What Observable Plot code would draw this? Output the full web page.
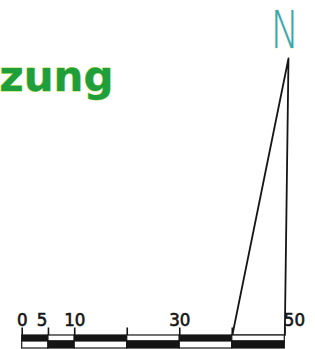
<!DOCTYPE html>
<html><head><meta charset="utf-8">
<script src="https://cdn.jsdelivr.net/npm/d3@7"></script>
<script src="https://cdn.jsdelivr.net/npm/@observablehq/plot@0.6"></script>
<style>html,body{margin:0;padding:0;background:#fff;overflow:hidden}</style>
</head><body><div id="chart"></div>
<script>
// Scale bar data (distance units)
const tickValues = [0, 5, 10, 20, 30, 40, 50];
const tickLabels = ["0", "5", "10", "", "30", "", "50"];
const segmentStart = [0, 5, 10, 20, 30, 40];
const segmentEnd = [5, 10, 20, 30, 40, 50];
const topRowDark = [true, false, true, false, true, false];
// North arrow (tip and base, in distance units along the bar)
const arrowTipX = 50.7;
const arrowBaseLeftX = 40;
const arrowBaseRightX = 50;
const northLabel = "N";
const titleText = "zung";

const segments = segmentStart.map((s, i) => ({x1: s, x2: segmentEnd[i], dark: topRowDark[i]}));
const ticks = tickValues.map((v, i) => ({x: v, label: tickLabels[i]}));

// vertical layout rows (in the chart's vertical units)
const Y = {tickTop: 327.5, barTop: 335, barMid: 341, barBottom: 348, labelBase: 325, arrowTip: 58, northBase: 47};

const arrow = [
  {x: arrowTipX, y: Y.arrowTip},
  {x: arrowBaseLeftX, y: Y.barTop},
  {x: arrowBaseRightX, y: Y.barTop},
  {x: arrowTipX, y: Y.arrowTip}
];

const ink = "#151515";
const labelFont = "'DejaVu Sans Condensed', 'Liberation Sans Narrow', sans-serif";
const labelStyle = {y: Y.labelBase, text: "label", lineAnchor: "bottom", fontSize: 18.5, fontFamily: labelFont, fill: ink, stroke: ink, strokeWidth: 0.6};

const chart = Plot.plot({
  width: 315,
  height: 349,
  margin: 0,
  x: {domain: [0, 50], range: [21.7, 284.3], axis: null},
  y: {domain: [0, 349], range: [0, 349], axis: null},
  style: {background: "#fff"},
  marks: [
    // north arrow outline
    Plot.line(arrow, {x: "x", y: "y", stroke: ink, strokeWidth: 1.8, strokeLinejoin: "miter", fill: "none"}),
    // bar rows
    Plot.rect(segments, {x1: "x1", x2: "x2", y1: Y.barTop, y2: Y.barMid, fill: d => d.dark ? ink : "#fff", stroke: ink, strokeWidth: 1.2}),
    Plot.rect(segments, {x1: "x1", x2: "x2", y1: Y.barMid, y2: Y.barBottom, fill: d => d.dark ? "#fff" : ink, stroke: ink, strokeWidth: 1.2}),
    // ticks
    Plot.ruleX(ticks, {x: "x", y1: Y.tickTop, y2: Y.barTop, stroke: ink, strokeWidth: 1.6}),
    // tick labels
    Plot.text(ticks.filter(d => d.label && d.x !== 5 && d.x !== 50), {x: "x", ...labelStyle}),
    Plot.text(ticks.filter(d => d.x === 5), {x: "x", ...labelStyle, textAnchor: "end", dx: -1}),
    Plot.text(ticks.filter(d => d.x === 50), {x: "x", ...labelStyle, textAnchor: "start", dx: -1}),
    // north label
    Plot.text([northLabel], {x: arrowBaseRightX, y: Y.northBase, text: d => d, lineAnchor: "bottom", fontSize: 51, fontWeight: 200, fontFamily: "'DejaVu Sans', sans-serif", fill: "#37a7b4", stroke: "#c8e070", strokeWidth: 0.5, paintOrder: "stroke"}),
    // title fragment
    Plot.text([titleText], {frameAnchor: "top-left", text: d => d, textAnchor: "end", lineAnchor: "bottom", dx: 113, dy: 90, fontSize: 42, fontWeight: "bold", fontFamily: "'DejaVu Sans', sans-serif", fill: "#1f9f3c", stroke: "#b4dc4a", strokeWidth: 0.8, paintOrder: "stroke"})
  ]
});
document.getElementById("chart").append(chart);

// narrow the north letter horizontally, keeping its anchor point
d3.select(chart).selectAll("text").filter(function() { return this.textContent === northLabel; }).each(function() {
  const t = d3.select(this);
  const tr = t.attr("transform");
  if (tr) {
    t.attr("transform", tr + " scale(0.74,1)");
  } else {
    const x = +t.attr("x") || 0, y = +t.attr("y") || 0;
    t.attr("x", null).attr("y", null).attr("transform", `translate(${x},${y}) scale(0.74,1)`);
  }
});
</script>
</body></html>
